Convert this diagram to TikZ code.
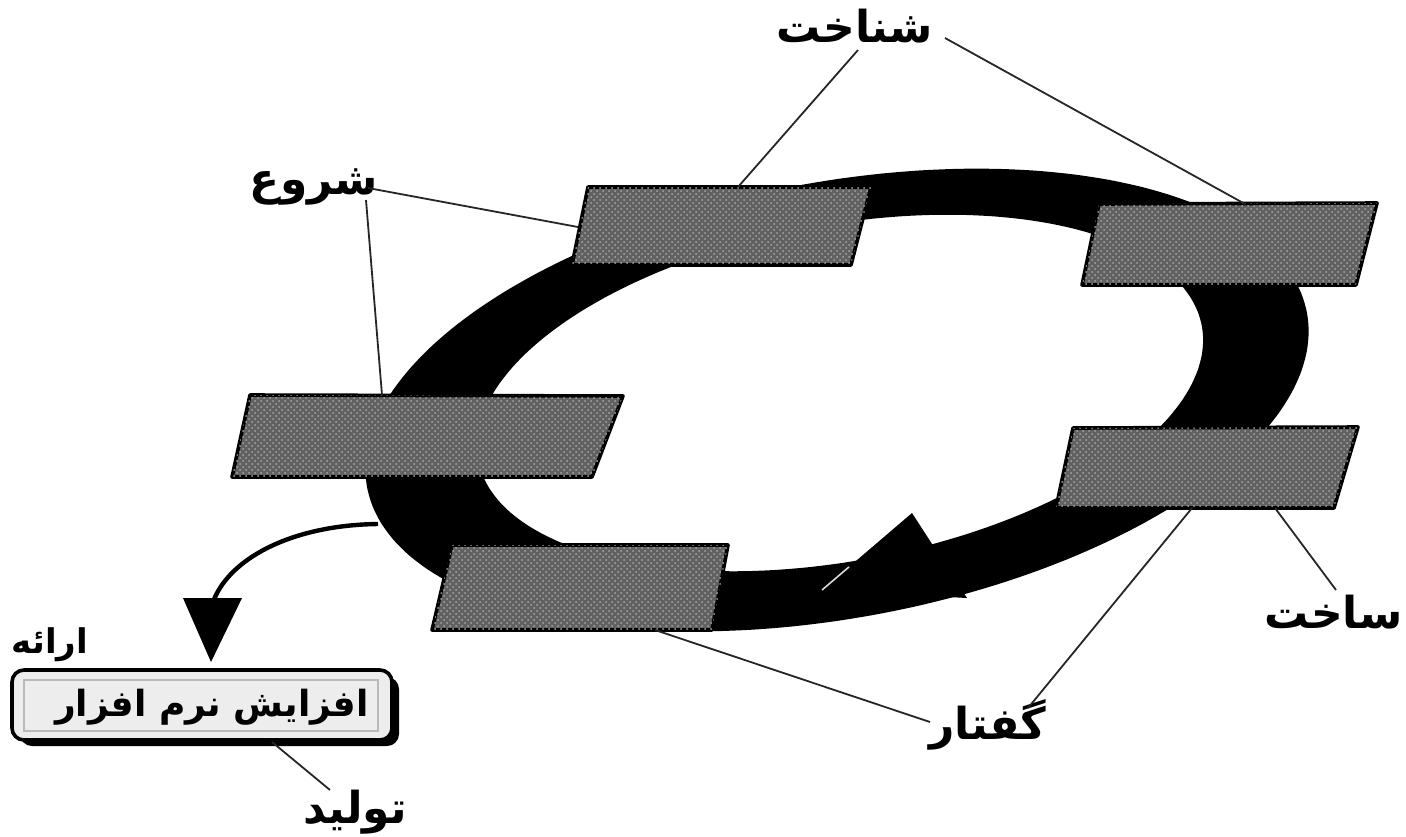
\documentclass[tikz,border=0pt]{standalone}
\usepackage{fontspec}
\usetikzlibrary{calc,patterns}
\newfontfamily\arfont[Script=Arabic]{DejaVu Sans}
\TeXXeTstate=1
\begin{document}
\begin{tikzpicture}[x=0.5pt,y=-0.5pt,
  gbox/.style={draw=black, line width=1.8pt, fill=black!62, line join=round,
    postaction={pattern=crosshatch dots, pattern color=black!35}},
  lbl/.style={font=\arfont\bfseries\fontsize{22}{26}\selectfont, inner sep=0pt},
  conn/.style={draw=black!85, line width=0.9pt}]
\useasboundingbox[fill=white] (0,0) rectangle (1406,836);
% ring
\fill[black, even odd rule]
  plot[smooth cycle, samples=72, domain=0:355]
   ({837+478*cos(\x)*cos(10.5)-218*sin(\x)*sin(10.5)},
    {400-478*cos(\x)*sin(10.5)-218*sin(\x)*cos(10.5)})
  plot[smooth cycle, samples=72, domain=0:355]
   ({840+368*cos(\x)*cos(10.5)-168*sin(\x)*sin(10.5)},
    {393-368*cos(\x)*sin(10.5)-168*sin(\x)*cos(10.5)});
% ring arrow head
\coordinate (hT) at (912,513);
\coordinate (hR) at (967,598);
\coordinate (hTip) at (822,590);
\fill[black] (hT) -- (hR) -- (hTip) -- cycle;
\draw[white!85!black, line width=0.8pt] (hTip) -- ($(hTip)!0.3!(hT)$);
% boxes
\draw[gbox] (588,187) -- (871,187) -- (851,265) -- (572,265) -- cycle;
\draw[gbox] (1099,204) -- (1377,203) -- (1356,285) -- (1082,285) -- cycle;
\draw[gbox] (250,395) -- (623,396) -- (592,477) -- (232,477) -- cycle;
\draw[gbox] (1073,428) -- (1358,427) -- (1334,508) -- (1056,508) -- cycle;
\draw[gbox] (452,545) -- (728,545) -- (712,630) -- (432,630) -- cycle;
\coordinate (A-t) at (738,187);
\coordinate (A-l) at (578,227);
\coordinate (B-t) at (1245,204);
\coordinate (C-t) at (382,395);
\coordinate (D-b1) at (1275,508);
\coordinate (D-b2) at (1192,508);
\coordinate (E-b) at (655,630);
% side arrow out of the ring
\coordinate (outS) at (378,524);
\coordinate (outE) at (212,605);
\draw[line width=2.2pt] (outS) .. controls (290,525) and (226,560) .. (outE);
\fill[black] (183,598) -- (242,598) -- (211,662) -- cycle;
% output box
\fill[black, rounded corners=6] (20,677) rectangle (399,746);
\draw[line width=1.8pt, fill=gray!14, rounded corners=6] (12,670) rectangle (392,740);
\draw[gray!55, line width=0.6pt] (24,680) rectangle (378,731);
\node[font=\arfont\bfseries\fontsize{18}{22}\selectfont, inner sep=0pt] (out) at (212,707) {\beginR افزایش نرم افزار\endR};
\coordinate (F-b) at (272,742);
% labels
\node[lbl] (shn) at (855,26) {\beginR شناخت\endR};
\node[lbl] (shr) at (314,187) {\beginR شروع\endR};
\node[lbl, anchor=east] (sak) at (1403,612) {\beginR ساخت\endR};
\node[lbl] (gof) at (988,725) {\beginR گفتار\endR};
\node[lbl, font=\arfont\bfseries\fontsize{17}{20}\selectfont] (era) at (50,645) {\beginR ارائه\endR};
\node[lbl] (tol) at (355,812) {\beginR تولید\endR};
\coordinate (shn-l) at (858,50);
\coordinate (shn-r) at (945,38);
\coordinate (shr-r) at (368,188);
\coordinate (shr-d) at (366,200);
\coordinate (sak-t) at (1336,590);
\coordinate (gof-t) at (1028,708);
\coordinate (gof-l) at (930,722);
\coordinate (tol-t) at (330,790);
% connectors
\draw[conn] (shn-l) -- (A-t);
\draw[conn] (shn-r) -- (B-t);
\draw[conn] (shr-r) -- (A-l);
\draw[conn] (shr-d) -- (C-t);
\draw[conn] (sak-t) -- (D-b1);
\draw[conn] (gof-t) -- (D-b2);
\draw[conn] (gof-l) -- (E-b);
\draw[conn] (tol-t) -- (F-b);
\end{tikzpicture}
\end{document}
